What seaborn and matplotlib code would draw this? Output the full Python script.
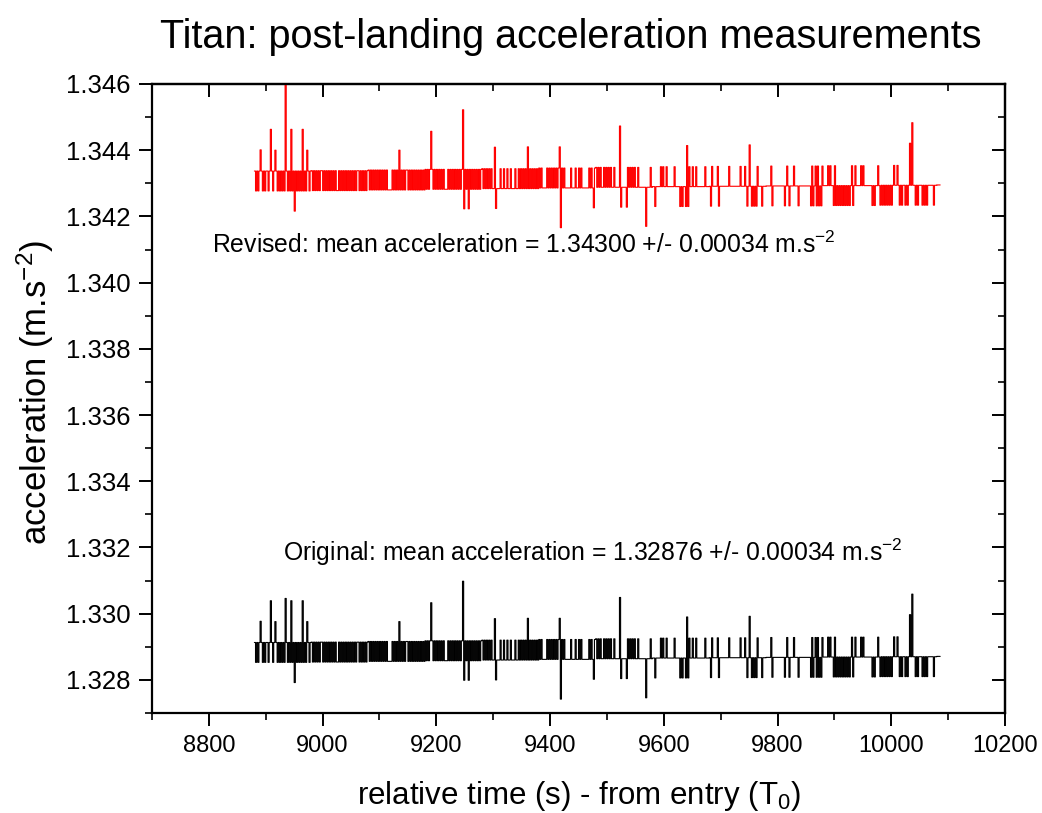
import numpy as np
import pandas as pd
import matplotlib
matplotlib.use("Agg")
import matplotlib.pyplot as plt
from matplotlib.ticker import MultipleLocator
import seaborn as sns

# ---------------- data ----------------
t_start = 8880.0          # first sample (s)
sample_dt = 2.0           # sample spacing (s)
block_span = 100.0        # each code string covers 100 s
revised_mean = 1.34300
original_mean = 1.32876
mean_error = 0.00034
quantum = 0.0006          # digitisation step of the accelerometer

# base level of each 100 s block, relative to the mean
block_base = [-0.00023, -0.00022, -0.00020, -0.00018, -0.00016, -0.00014,
              -0.00012, -0.00010, -0.00009, -0.00008, -0.00007, -0.00006,
              -0.00005]

# one character per sample: '0' base, '+' one step up, '-' one step down
block_codes = [
    "+0+0+0+0+0 ++0+0+0+0+ 0+0+0+00+0 +0+0+0+0+0 +0+0+0++0+",
    "+0+0+0+0++ 0+0+0+0+0+ 0+00+0+0+0 +0+0+0+0+0 ++0+0+0+0+",
    "+0+0+0+0+0 +0+0+0+000 0+0+0+0+0+ 0+0++0+0+0 +0+0+0+0+0",
    "+0+0+0+0+0 +0+0+0+000 +0+0+0+0+0 +0+00+0+0+ 0+0+0+0+0+",
    "+0+0+0+0+0 00-000+00+ 00+00+000+ 00+0+0+0+0 +0+0+0+0+0",
    "+0+0000+0+ 0+0+0+0+00 +0+00000+0 00+00+0+00 0000+0+0-+",
    "+0+0+00+0+ 0+0+00+000 00-0000-+0 +0+0+00+00 00000000+0",
    "00-0000+0+ 00+000000+ 0000-0-00- 0-+00+00+0 000000+000",
    "0-+0000+-0 0000000+00 0000000+00 0+0-000-0- 0-+000-000",
    "0000+-0000 000000-0+0 -000+000-0 000000000- +-0+-+-0-+",
    "0000+0+00- +-0-0-0-0- 0-0-0+-0+0 000+0+0000 000-0-00+0",
    "-0-0-0-0-0 -0+00+0-0- 00-0-00000 0-0-000-0- 0-00000-00",
    "0000",
]

# isolated spikes shared by both series (time s, offset from mean)
spike_times = [8890, 8908, 8916, 8944, 8950, 8964, 8972, 9134, 9190, 9246,
               9248, 9256, 9302, 9304, 9360, 9416, 9418, 9522, 9568, 9640,
               9750, 10032, 10036]
spike_offsets = [0.00101, 0.00163, 0.00100, 0.00163, -0.00084, 0.00163,
                 0.00100, 0.00100, 0.00157, 0.00222, -0.00077, -0.00077,
                 0.00109, -0.00076, 0.00110, 0.00110, -0.00134, 0.00173,
                 -0.00130, 0.00114, 0.00116, 0.00121, 0.00183]
# the 8934 s spike differs between the two series
revised_spike_times = [8934]
revised_spike_offsets = [0.00320]
original_spike_times = [8934]
original_spike_offsets = [0.00170]

x_ticks_major = [8800, 9000, 9200, 9400, 9600, 9800, 10000, 10200]
y_ticks_major = [1.328, 1.330, 1.332, 1.334, 1.336, 1.338, 1.340, 1.342, 1.344, 1.346]


def build_series(mean, extra_t, extra_off):
    step = {"0": 0.0, "+": quantum, "-": -quantum}
    times, vals = [], []
    for b, codes in enumerate(block_codes):
        s = codes.replace(" ", "")
        for k, c in enumerate(s):
            times.append(t_start + b * block_span + k * sample_dt)
            vals.append(mean + block_base[b] + step[c])
    idx = {t: i for i, t in enumerate(times)}
    for ts, off in list(zip(spike_times, spike_offsets)) + list(zip(extra_t, extra_off)):
        vals[idx[float(ts)]] = mean + off
    return pd.DataFrame({"time": times, "acc": vals})


revised = build_series(revised_mean, revised_spike_times, revised_spike_offsets)
original = build_series(original_mean, original_spike_times, original_spike_offsets)

# ---------------- style ----------------
sns.set_style("ticks")
plt.rcParams["font.family"] = ["Liberation Sans", "DejaVu Sans"]
plt.rcParams["mathtext.fontset"] = "custom"
plt.rcParams["mathtext.rm"] = "Liberation Sans"
plt.rcParams["mathtext.it"] = "Liberation Sans:italic"
plt.rcParams["mathtext.bf"] = "Liberation Sans:bold"
for key in ["text.color", "axes.labelcolor", "xtick.color", "ytick.color", "axes.edgecolor"]:
    plt.rcParams[key] = "black"

fig = plt.figure(figsize=(10.42, 8.13), dpi=100)
ax = fig.add_axes([0.1459, 0.123, 0.8186, 0.7737])

sns.lineplot(data=revised, x="time", y="acc", ax=ax, color="#ff0000",
             lw=0.8, estimator=None, sort=False, drawstyle="steps-post")
sns.lineplot(data=original, x="time", y="acc", ax=ax, color="#000000",
             lw=0.8, estimator=None, sort=False, drawstyle="steps-post")

ax.set_xlim(8700, 10200)
ax.set_ylim(1.327, 1.346)
ax.set_xticks(x_ticks_major)
ax.set_yticks(y_ticks_major)
ax.xaxis.set_minor_locator(MultipleLocator(100))
ax.yaxis.set_minor_locator(MultipleLocator(0.001))
ax.set_yticklabels([f"{v:.3f}" for v in y_ticks_major], fontsize=18.5)
ax.set_xticklabels([str(v) for v in x_ticks_major], fontsize=17)

for sp in ax.spines.values():
    sp.set_linewidth(1.6)
    sp.set_color("black")
    sp.set_visible(True)

ax.tick_params(which="major", direction="out", length=9.5, width=1.4,
               colors="black", pad=6)
ax.tick_params(which="minor", direction="out", length=5, width=1.2)

# inward ticks on top and right
secx = ax.secondary_xaxis("top")
secx.set_xticks(x_ticks_major)
secx.xaxis.set_minor_locator(MultipleLocator(100))
secx.tick_params(which="major", direction="in", length=9.5, width=1.4, labeltop=False)
secx.tick_params(which="minor", direction="in", length=5, width=1.2)
secx.spines["top"].set_linewidth(1.6)
secy = ax.secondary_yaxis("right")
secy.set_yticks(y_ticks_major)
secy.yaxis.set_minor_locator(MultipleLocator(0.001))
secy.tick_params(which="major", direction="in", length=9.5, width=1.4, labelright=False)
secy.tick_params(which="minor", direction="in", length=5, width=1.2)
secy.spines["right"].set_linewidth(1.6)

ax.set_xlabel(r"relative time (s) - from entry (T$_{0}$)", fontsize=22.5)
ax.set_ylabel(r"acceleration (m.s$^{-2}$)", fontsize=25)
ax.xaxis.set_label_coords(0.5, -0.105)
ax.yaxis.set_label_coords(-0.113, 0.51)

fig.text(0.548, 0.955, "Titan: post-landing acceleration measurements",
         fontsize=28.5, ha="center", va="center")

ax.text(8806, 1.34114,
        f"Revised: mean acceleration = {revised_mean:.5f} +/- {mean_error:.5f} m.s$^{{-2}}$",
        fontsize=17.8, ha="left", va="center")
ax.text(8931, 1.33186,
        f"Original: mean acceleration = {original_mean:.5f} +/- {mean_error:.5f} m.s$^{{-2}}$",
        fontsize=17.8, ha="left", va="center")

fig.savefig("out.png", dpi=100)
